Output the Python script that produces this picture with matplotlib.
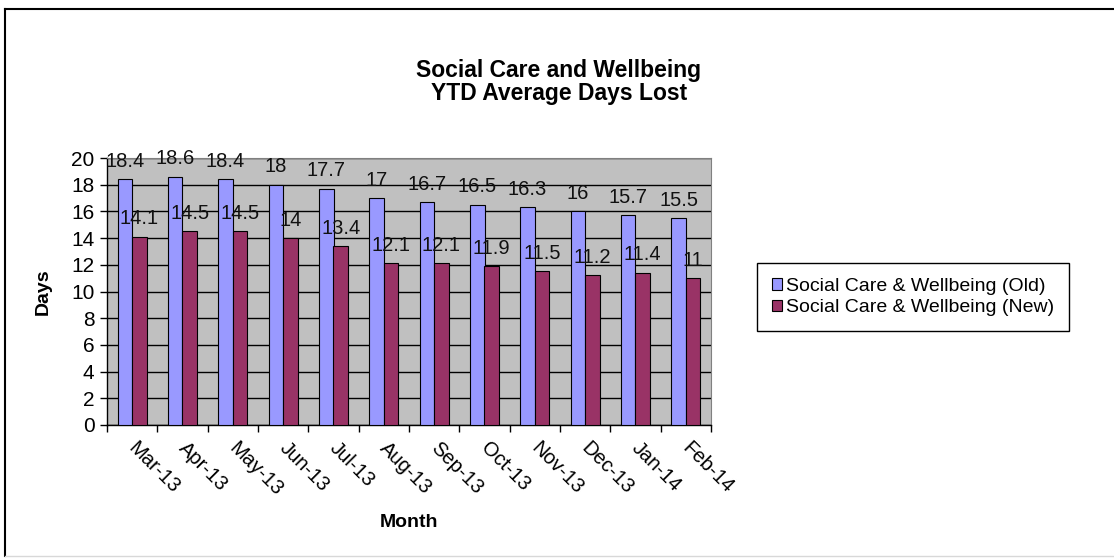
import numpy as np
import matplotlib.pyplot as plt
from matplotlib.lines import Line2D
from matplotlib.transforms import ScaledTranslation

months = ['Mar-13', 'Apr-13', 'May-13', 'Jun-13', 'Jul-13', 'Aug-13',
          'Sep-13', 'Oct-13', 'Nov-13', 'Dec-13', 'Jan-14', 'Feb-14']
old_days = [18.4, 18.6, 18.4, 18, 17.7, 17, 16.7, 16.5, 16.3, 16, 15.7, 15.5]
new_days = [14.1, 14.5, 14.5, 14, 13.4, 12.1, 12.1, 11.9, 11.5, 11.2, 11.4, 11]

plt.rcParams['font.family'] = ['Liberation Sans', 'DejaVu Sans']

W, H = 1114, 558
fig = plt.figure(figsize=(W / 100, H / 100), dpi=100)
ax = fig.add_axes([107 / W, 1 - 425 / H, (711 - 107) / W, (425 - 158) / H])
ax.set_facecolor('#c0c0c0')

x = np.arange(len(months))
width = 0.29
rects1 = ax.bar(x - width / 2, old_days, width, color='#9999ff',
                edgecolor='black', lw=0.8, label='Social Care & Wellbeing (Old)', zorder=3)
rects2 = ax.bar(x + width / 2, new_days, width, color='#993366',
                edgecolor='black', lw=0.8, label='Social Care & Wellbeing (New)', zorder=3)


def autolabel(rects):
    """Put the value above each bar."""
    for rect in rects:
        height = rect.get_height()
        ax.annotate('{:g}'.format(height),
                    xy=(rect.get_x() + rect.get_width() / 2, height),
                    xytext=(0, 6), textcoords='offset points',
                    ha='center', va='bottom', fontsize=14.5, color='#111111',
                    zorder=5)


autolabel(rects1)
autolabel(rects2)

ax.set_xlim(-0.5, len(months) - 0.5)
ax.set_ylim(0, 20)
ax.set_yticks(np.arange(0, 21, 2))
ax.tick_params(axis='y', labelsize=15, length=5, width=1, pad=4)
ax.yaxis.grid(True, color='black', lw=1, zorder=1)
ax.set_axisbelow(True)

# category labels at centers, tick marks at the category boundaries
ax.set_xticks(x)
ax.set_xticklabels(months, rotation=-45, ha='left', va='top',
                   rotation_mode='anchor', fontsize=14.5)
ax.tick_params(axis='x', which='major', length=0, pad=10)
for lbl in ax.get_xticklabels():
    lbl.set_transform(lbl.get_transform() + ScaledTranslation(6 / 100, 0, fig.dpi_scale_trans))
ax.set_xticks(np.arange(-0.5, len(months)), minor=True)
ax.tick_params(axis='x', which='minor', length=5, width=1)

for side in ('top', 'right'):
    ax.spines[side].set_color('#808080')
for side in ('left', 'bottom'):
    ax.spines[side].set_color('black')
    ax.spines[side].set_linewidth(1)

ax.set_ylabel('Days', fontsize=14, fontweight='bold', labelpad=14)
ax.set_xlabel('Month', fontsize=14, fontweight='bold', labelpad=10)

fig.text(559 / W, 1 - 82 / H, 'Social Care and Wellbeing\nYTD Average Days Lost',
         ha='center', va='center', fontsize=16.5, fontweight='bold',
         linespacing=1.05)

leg = ax.legend(loc='center left', bbox_to_anchor=(757 / W, 1 - 297 / H),
                bbox_transform=fig.transFigure, fontsize=14, frameon=True,
                fancybox=False, edgecolor='black', framealpha=1,
                handlelength=0.55, handleheight=0.55, handletextpad=0.2,
                borderpad=0.75, labelspacing=0.25, borderaxespad=0)
leg.get_frame().set_linewidth(1)

# outer chart border
fig.add_artist(Line2D([5 / W, 5 / W], [1 - 9 / H, 1 - 556 / H],
                      transform=fig.transFigure, color='black', lw=1.5))
fig.add_artist(Line2D([5 / W, 1], [1 - 9 / H, 1 - 9 / H],
                      transform=fig.transFigure, color='black', lw=1.5))
fig.add_artist(Line2D([5 / W, 1], [1 - 556 / H, 1 - 556 / H],
                      transform=fig.transFigure, color='#d8d8d8', lw=1))

fig.savefig('out.png', dpi=100)
